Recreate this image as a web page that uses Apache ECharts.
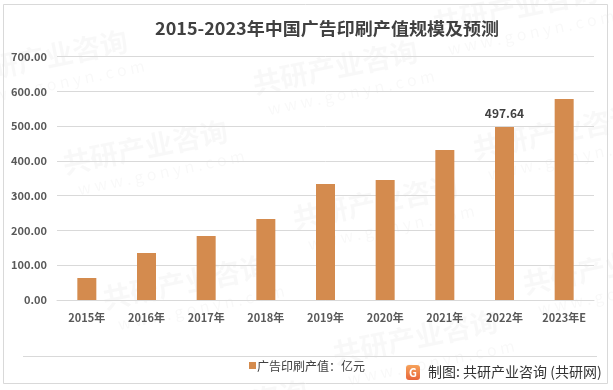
<!DOCTYPE html>
<html>
<head>
<meta charset="utf-8">
<script src="https://cdn.jsdelivr.net/npm/echarts@6/dist/echarts.min.js"></script>
<style>html,body{margin:0;padding:0;background:#fff;}#c{width:613px;height:390px;}</style>
</head>
<body>
<div id="c"></div>
<script>
const categories = ['2015年','2016年','2017年','2018年','2019年','2020年','2021年','2022年','2023年E'];
const values = [63.3, 135.2, 184.1, 233.0, 333.7, 345.2, 431.5, 497.64, 578.3];
const labeledIndex = 7;
const seriesName = '广告印刷产值：亿元';
const titleText = '2015-2023年中国广告印刷产值规模及预测';
const sourceText = '制图: 共研产业咨询 (共研网)';
const FONT = '"Noto Sans CJK SC", "Noto Sans", sans-serif';

const chart = echarts.init(document.getElementById('c'), null, {renderer: 'canvas'});

const watermarks = [];
const wmPos = [[60,150],[250,70],[430,10],[100,285],[290,205],[470,135],[140,410],[330,340],[520,270],[-40,60],[560,400]];
wmPos.forEach(p => {
  watermarks.push({
    type: 'group', x: p[0], y: p[1], rotation: 0.2, silent: true, z: 0,
    children: [
      {type: 'text', style: {text: '共研产业咨询', x: 0, y: 0, fill: 'rgba(0,0,0,0.028)', font: 'bold 28px ' + FONT}},
      {type: 'text', style: {text: 'w w w . g o n y n . c o m', x: 10, y: 34, fill: 'rgba(0,0,0,0.028)', font: '16px ' + FONT}}
    ]
  });
});

chart.setOption({
  backgroundColor: '#fff',
  animation: false,
  grid: {left: 57, right: 19, top: 56.7, bottom: 90, containLabel: false},
  xAxis: {
    type: 'category', data: categories,
    axisLine: {show: true, lineStyle: {color: '#d9d9d9', width: 1}},
    axisTick: {show: false},
    axisLabel: {color: '#595959', fontSize: 11, fontWeight: 'bold', fontFamily: FONT, margin: 12, interval: 0}
  },
  yAxis: {
    type: 'value', min: 0, max: 700, interval: 100,
    axisLine: {show: false}, axisTick: {show: false},
    splitLine: {lineStyle: {color: '#d9d9d9', width: 1}},
    axisLabel: {color: '#595959', fontSize: 11, fontWeight: 'bold', fontFamily: FONT, margin: 10,
      formatter: v => v.toFixed(2)}
  },
  series: [{
    name: seriesName, type: 'bar', data: values.map((v, i) => i === labeledIndex ? {value: v, label: {show: true}} : v),
    barWidth: 19, itemStyle: {color: '#d48b4e'}, z: 3,
    label: {show: false, position: 'top', distance: 8, color: '#404040', fontSize: 12, fontWeight: 'bold', fontFamily: FONT,
      formatter: p => p.value.toFixed(2)}
  }],
  graphic: watermarks.concat([
    {type: 'rect', shape: {x: 3.5, y: 4.5, width: 604, height: 379}, style: {fill: 'none', stroke: '#d9d9d9', lineWidth: 1}, silent: true, z: 10},
    {type: 'line', shape: {x1: 23, y1: 356.5, x2: 597, y2: 356.5}, style: {stroke: '#d9d9d9', lineWidth: 1}, z: 10},
    {type: 'text', x: 327, y: 29, scaleX: 1.06, style: {text: titleText, fill: '#404040', font: 'bold 17px ' + FONT, textAlign: 'center', textVerticalAlign: 'middle'}, z: 10},
    {type: 'rect', shape: {x: 249, y: 362, width: 7, height: 7}, style: {fill: '#d48b4e'}, z: 10},
    {type: 'text', x: 257, y: 366, style: {text: seriesName, fill: '#404040', font: '12px ' + FONT, textAlign: 'left', textVerticalAlign: 'middle'}, z: 10},
    {type: 'rect', shape: {x: 406, y: 365, width: 14, height: 15, r: 3},
      style: {fill: new echarts.graphic.LinearGradient(0, 0, 0, 1, [{offset: 0, color: '#f6a25a'}, {offset: 1, color: '#e8653a'}])}, z: 10},
    {type: 'text', x: 413, y: 372.5, style: {text: 'G', fill: '#fff', font: 'bold 11px ' + FONT, textAlign: 'center', textVerticalAlign: 'middle'}, z: 11},
    {type: 'text', x: 428, y: 372, style: {text: sourceText, fill: '#333', font: '14px ' + FONT, textAlign: 'left', textVerticalAlign: 'middle'}, z: 10}
  ])
});
</script>
</body>
</html>
